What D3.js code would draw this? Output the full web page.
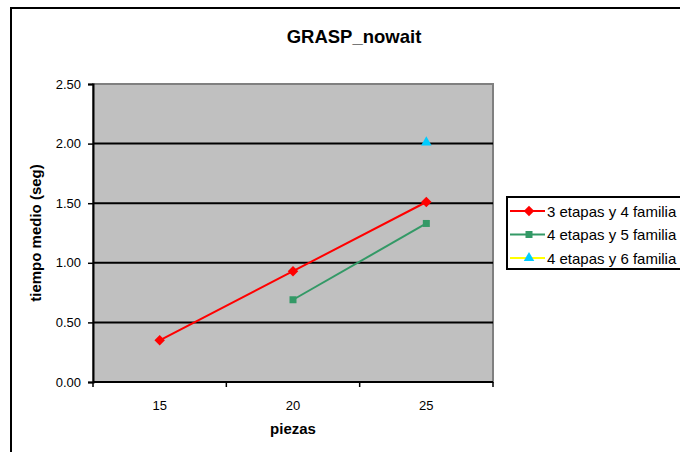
<!DOCTYPE html>
<html>
<head>
<meta charset="utf-8">
<script src="https://cdn.jsdelivr.net/npm/d3@7"></script>
<style>
  html, body { margin: 0; padding: 0; background: #fff; overflow: hidden; }
  svg { display: block; font-family: "Liberation Sans", Arial, sans-serif; }
</style>
</head>
<body>
<svg id="chart" width="680" height="452"></svg>
<script>
// Mean GRASP_nowait run time by number of pieces
const categories = ["15", "20", "25"];
const seriesNames = ["3 etapas y 4 familia", "4 etapas y 5 familia", "4 etapas y 6 familia"];
const serie3e4f = [0.35, 0.93, 1.51];
const serie4e5f = [null, 0.69, 1.33];
const serie4e6f = [null, null, 2.01];
const yTicks = [0, 0.5, 1.0, 1.5, 2.0, 2.5];

// Diamond drawn as a square turned 45 degrees
const diamond = {
  draw(ctx, size) {
    const r = Math.sqrt(size / 2);
    ctx.moveTo(0, -r); ctx.lineTo(r, 0); ctx.lineTo(0, r); ctx.lineTo(-r, 0); ctx.closePath();
  }
};

const series = [
  { name: seriesNames[0], values: serie3e4f, line: "#FF0000", fill: "#FF0000", symbol: diamond, size: 55 },
  { name: seriesNames[1], values: serie4e5f, line: "#339966", fill: "#339966", symbol: d3.symbolSquare, size: 49 },
  { name: seriesNames[2], values: serie4e6f, line: "#FFFF00", fill: "#00CCFF", symbol: d3.symbolTriangle, size: 48 }
];

const svg = d3.select("#chart");
const plot = { left: 93, right: 493, top: 84, bottom: 382 };

// Outer chart frame (extends past the right and bottom edges)
svg.append("rect")
  .attr("x", 11).attr("y", 8).attr("width", 700).attr("height", 460)
  .attr("fill", "#fff").attr("stroke", "#000").attr("stroke-width", 2);

const x = d3.scaleBand().domain(categories).range([plot.left, plot.right]);
const y = d3.scaleLinear().domain([0, 2.5]).range([plot.bottom, plot.top]);

// Plot background
svg.append("rect")
  .attr("x", plot.left).attr("y", plot.top)
  .attr("width", plot.right - plot.left).attr("height", plot.bottom - plot.top)
  .attr("fill", "#C0C0C0").attr("stroke", "#808080").attr("stroke-width", 2);

// Horizontal gridlines
svg.append("g").selectAll("line")
  .data(yTicks.filter(t => t > 0 && t < 2.5))
  .join("line")
  .attr("x1", plot.left).attr("x2", plot.right)
  .attr("y1", d => y(d)).attr("y2", d => y(d))
  .attr("stroke", "#000").attr("stroke-width", 2);

// Y axis
const yAxis = svg.append("g")
  .attr("transform", `translate(${plot.left},0)`)
  .call(d3.axisLeft(y).tickValues(yTicks).tickFormat(d3.format(".2f")).tickSize(5).tickPadding(7));
yAxis.select(".domain").attr("stroke", "#000").attr("stroke-width", 2);
yAxis.selectAll(".tick line").attr("stroke", "#000").attr("stroke-width", 1.5);
yAxis.selectAll(".tick text").attr("font-size", 13).attr("fill", "#000")
  .attr("font-family", "Liberation Sans, Arial, sans-serif");

// X axis: ticks at category boundaries, labels centered in bands
const xAxis = svg.append("g").attr("transform", `translate(0,${plot.bottom})`);
xAxis.append("line")
  .attr("x1", plot.left).attr("x2", plot.right)
  .attr("stroke", "#000").attr("stroke-width", 2);
const bounds = categories.map(c => x(c)).concat([x(categories[categories.length - 1]) + x.bandwidth()]);
xAxis.selectAll(".xt").data(bounds).join("line")
  .attr("x1", d => d).attr("x2", d => d).attr("y1", 0).attr("y2", 5)
  .attr("stroke", "#000").attr("stroke-width", 1.5);
xAxis.selectAll(".xl").data(categories).join("text")
  .attr("x", d => x(d) + x.bandwidth() / 2).attr("y", 28)
  .attr("text-anchor", "middle").attr("font-size", 13).attr("fill", "#000")
  .text(d => d);

// Titles
svg.append("text")
  .attr("x", 354).attr("y", 43).attr("text-anchor", "middle")
  .attr("font-size", 18.5).attr("font-weight", "bold").text("GRASP_nowait");
svg.append("text")
  .attr("x", (plot.left + plot.right) / 2).attr("y", 434).attr("text-anchor", "middle")
  .attr("font-size", 15).attr("font-weight", "bold").text("piezas");
svg.append("text")
  .attr("transform", `translate(41,${(plot.top + plot.bottom) / 2}) rotate(-90)`)
  .attr("text-anchor", "middle")
  .attr("font-size", 15).attr("font-weight", "bold").text("tiempo medio (seg)");

// Series lines and markers
const cx = c => x(c) + x.bandwidth() / 2;
series.forEach(s => {
  const pts = categories.map((c, i) => ({ c, v: s.values[i] })).filter(p => p.v != null);
  const line = d3.line().x(p => cx(p.c)).y(p => y(p.v));
  svg.append("path").datum(pts)
    .attr("d", line).attr("fill", "none")
    .attr("stroke", s.line).attr("stroke-width", 2);
  svg.append("g").selectAll("path").data(pts).join("path")
    .attr("transform", p => `translate(${cx(p.c)},${y(p.v)})`)
    .attr("d", d3.symbol().type(s.symbol).size(s.size))
    .attr("fill", s.fill);
});

// Legend
const lg = svg.append("g").attr("transform", "translate(507,197)");
lg.append("rect").attr("x", 0).attr("y", 0).attr("width", 200).attr("height", 72)
  .attr("fill", "#fff").attr("stroke", "#000").attr("stroke-width", 2);
series.forEach((s, i) => {
  const ry = 14 + i * 23.5;
  lg.append("line").attr("x1", 3).attr("x2", 38).attr("y1", ry).attr("y2", ry)
    .attr("stroke", s.line).attr("stroke-width", 2);
  lg.append("path").attr("transform", `translate(22,${ry})`)
    .attr("d", d3.symbol().type(s.symbol).size(s.size)).attr("fill", s.fill);
  lg.append("text").attr("x", 40).attr("y", ry + 5.5)
    .attr("font-size", 15).attr("fill", "#000").text(s.name);
});
</script>
</body>
</html>
